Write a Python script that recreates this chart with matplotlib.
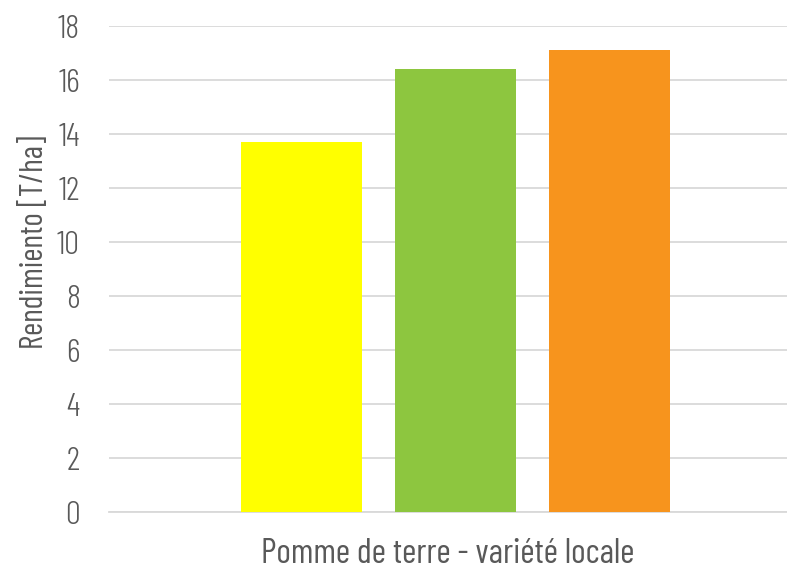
import matplotlib
matplotlib.use("Agg")
import matplotlib.pyplot as plt

plt.rcParams['font.family'] = ['Barlow Condensed', 'DejaVu Sans']
plt.rcParams['font.weight'] = 300

# values
series = ['Série 1', 'Série 2', 'Série 3']
values = [13.7, 16.4, 17.1]
colors = ['#ffff00', '#8dc63f', '#f7941d']
category = 'Pomme de terre - variété locale'
yticks = [0, 2, 4, 6, 8, 10, 12, 14, 16, 18]

fig = plt.figure(figsize=(7.87, 5.73), dpi=100)
ax = fig.add_axes([109/787, 61/573, 1 - 109/787, (512 - 26)/573])

pos = [-1, 0, 1]
ax.bar(pos, values, width=0.786, color=colors, zorder=3)

ax.set_xlim(-2.253, 2.15)
ax.set_ylim(0, 18)
ax.set_yticks(yticks)
ax.set_xticks([])
ax.yaxis.grid(True, color='#d9d9d9', linewidth=1.3, zorder=0)
ax.tick_params(axis='y', length=0, pad=21, labelsize=24, labelcolor='#595959')

for s in ['top', 'right', 'left']:
    ax.spines[s].set_visible(False)
ax.spines['bottom'].set_color('#d9d9d9')
ax.spines['bottom'].set_linewidth(1.3)

ax.set_ylabel('Rendimiento [T/ha]', fontsize=23, color='#595959')
ax.yaxis.set_label_coords(-0.087, 0.556)
ax.set_xlabel(category, fontsize=25, color='#595959', labelpad=19)

fig.savefig('out.png', dpi=100)
